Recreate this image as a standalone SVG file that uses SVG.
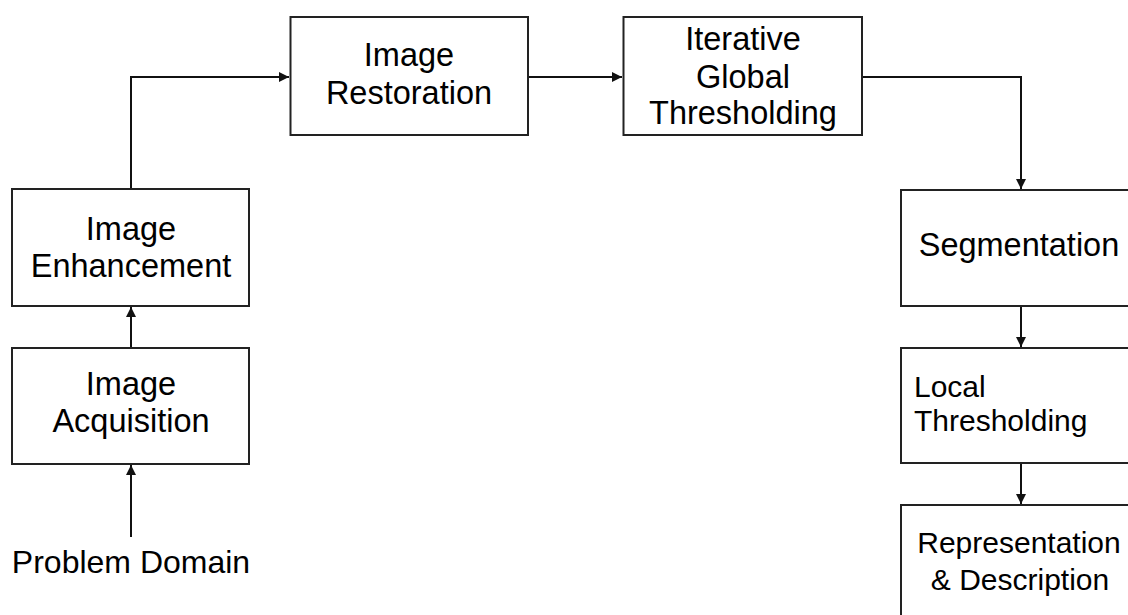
<svg xmlns="http://www.w3.org/2000/svg" width="1128" height="615" viewBox="0 0 1128 615">
<style>
.box{fill:#fff;stroke:#222;stroke-width:2}
.t{font-family:"Liberation Sans",Arial,sans-serif;font-size:32.5px;fill:#000;text-anchor:middle}
.s{font-size:30px}
.tl{text-anchor:start}
.c{fill:none;stroke:#111;stroke-width:2;marker-end:url(#ah)}
</style>
<defs>
<marker id="ah" viewBox="0 0 10 10" refX="10" refY="5" markerWidth="10" markerHeight="10" markerUnits="userSpaceOnUse" orient="auto">
<path d="M0,0 L10,5 L0,10 z" fill="#111"/>
</marker>
</defs>
<rect width="1128" height="615" fill="#fff"/>
<g id="connectors">
<path class="c" d="M131,537 V465"/>
<path class="c" d="M131,348 V307"/>
<path class="c" d="M131,189 V77 H289"/>
<path class="c" d="M528,77 H622"/>
<path class="c" d="M862,77 H1021 V189"/>
<path class="c" d="M1021,306 V347"/>
<path class="c" d="M1021,463 V504"/>
</g>
<g id="problem-domain">
<text class="t" x="131" y="573" style="font-size:32px">Problem Domain</text>
</g>
<g id="image-acquisition">
<rect class="box" x="12" y="348" width="237" height="116"/>
<text class="t" x="131" y="395">Image</text>
<text class="t" x="131" y="432">Acquisition</text>
</g>
<g id="image-enhancement">
<rect class="box" x="12" y="189" width="237" height="117"/>
<text class="t" x="131" y="240">Image</text>
<text class="t" x="131" y="277">Enhancement</text>
</g>
<g id="image-restoration">
<rect class="box" x="290.5" y="17" width="237.5" height="118"/>
<text class="t" x="409" y="66">Image</text>
<text class="t" x="409" y="104">Restoration</text>
</g>
<g id="iterative-global-thresholding">
<rect class="box" x="623.5" y="17" width="238.5" height="118"/>
<text class="t" x="743" y="50">Iterative</text>
<text class="t" x="743" y="88">Global</text>
<text class="t" x="743" y="124">Thresholding</text>
</g>
<g id="segmentation">
<rect class="box" x="901" y="190" width="237" height="116"/>
<text class="t" x="1019" y="256">Segmentation</text>
</g>
<g id="local-thresholding">
<rect class="box" x="901" y="348" width="237" height="115"/>
<text class="t s tl" x="914" y="397">Local</text>
<text class="t s tl" x="914" y="431">Thresholding</text>
</g>
<g id="representation-description">
<rect class="box" x="901" y="505" width="237" height="120"/>
<text class="t s" x="1019" y="553">Representation</text>
<text class="t s" x="1020" y="590">&amp; Description</text>
</g>
</svg>
